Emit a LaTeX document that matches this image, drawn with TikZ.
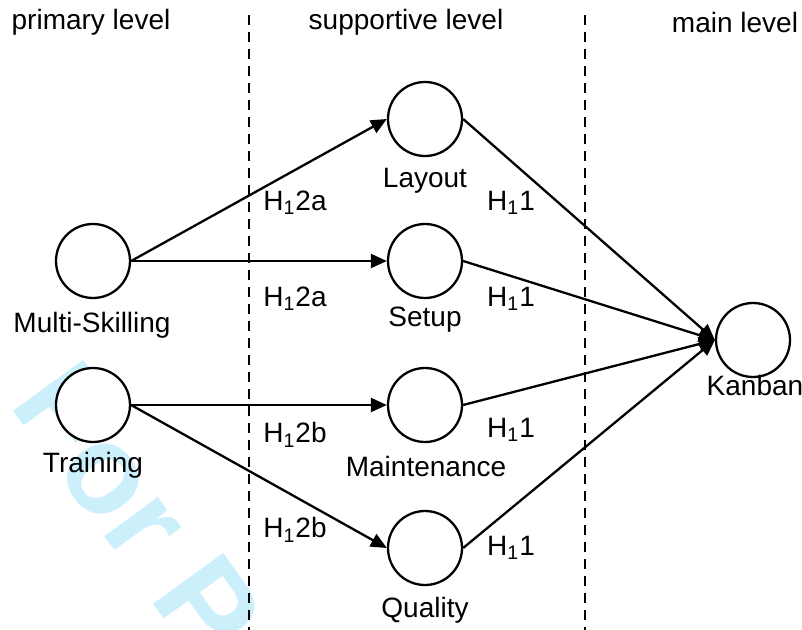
\documentclass[tikz,border=0pt]{standalone}
\usepackage{fontspec}
\setmainfont{Liberation Sans}
\usepackage{xcolor}
\usepackage{tikz}
\usetikzlibrary{arrows.meta}
\usetikzlibrary{positioning}

\begin{document}
\begin{tikzpicture}[
	x=0.5pt, y=-0.5pt,
	line width=1.15pt,
	font=\fontsize{14}{17}\selectfont
]
\tikzset{
    construct/.style = {circle, draw=black, fill=white, line width=1.15pt, minimum size=37pt, inner sep=0pt},
    rel/.style = {-{Triangle[length=8pt,width=7pt]}, line width=1.15pt},
    levelsep/.style = {dashed, dash pattern=on 5pt off 3.5pt, line width=1pt},
    hyplabel/.style = {inner sep=1pt}
}
\useasboundingbox (0,0) rectangle (802,630);
\begin{scope}
\clip (0,0) rectangle (802,630);
\node[rotate=-54,anchor=base west,inner sep=0pt,text=cyan!20,font=\fontsize{63}{63}\selectfont\bfseries] (wm) at (8,404) {For Peer Review};
\end{scope}
\node (primary) at (91,22) {primary level};
\node (supportive) at (406,22) {supportive level};
\node (mainlvl) at (735,22) {main level};
\draw[levelsep] (249,15) -- (249,630);
\draw[levelsep] (585,15) -- (585,630);
\node[construct] (ms) at (93,261) {};
\node[construct] (tr) at (93,405) {};
\node[construct] (lay) at (425,119) {};
\node[construct] (set) at (425,261) {};
\node[construct] (mai) at (425,405) {};
\node[construct] (qua) at (425,548) {};
\node[construct] (kan) at (753,340) {};
\node (msl) at (92,325) {Multi-Skilling};
\node (trl) at (93,465) {Training};
\node (layl) at (425,181) {Layout};
\node (setl) at (425,320) {Setup};
\node (mail) at (426,466) {Maintenance};
\node (qual) at (425,610) {Quality};
\node (kanl) at (755,385) {Kanban};
\draw[rel] (ms.east) -- (lay.west);
\draw[rel] (ms.east) -- (set.west);
\draw[rel] (tr.east) -- (mai.west);
\draw[rel] (tr.east) -- (qua.west);
\draw[rel] (lay.east) -- (kan.west);
\draw[rel] (set.east) -- (kan.west);
\draw[rel] (mai.east) -- (kan.west);
\draw[rel] (qua.east) -- (kan.west);
\node[hyplabel] (a1) at (295,203) {H\textsubscript{1}2a};
\node[hyplabel] (a2) at (295,299) {H\textsubscript{1}2a};
\node[hyplabel] (b1) at (295,435) {H\textsubscript{1}2b};
\node[hyplabel] (b2) at (295,530) {H\textsubscript{1}2b};
\node[hyplabel] (c1) at (511,203) {H\textsubscript{1}1};
\node[hyplabel] (c2) at (511,299) {H\textsubscript{1}1};
\node[hyplabel] (c3) at (511,430) {H\textsubscript{1}1};
\node[hyplabel] (c4) at (511,548) {H\textsubscript{1}1};
\end{tikzpicture}
\end{document}
